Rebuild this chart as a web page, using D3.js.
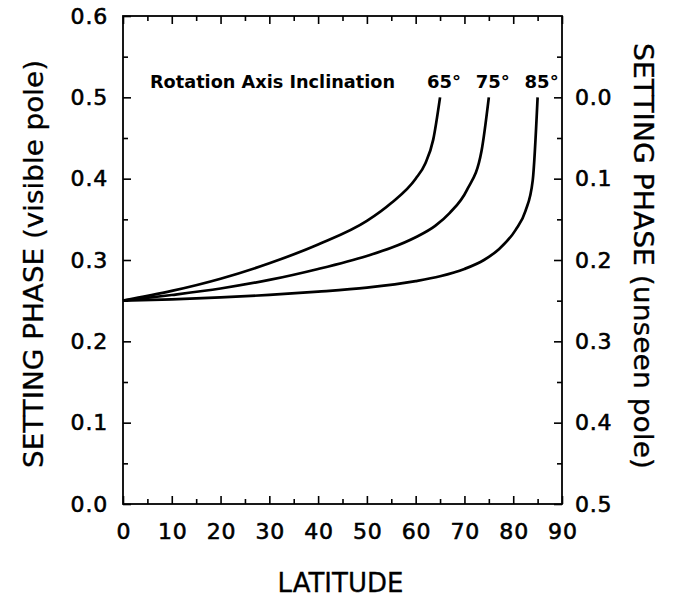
<!DOCTYPE html>
<html>
<head>
<meta charset="utf-8">
<script src="https://cdn.jsdelivr.net/npm/d3@7"></script>
<style>
  body { margin: 0; background: #fff; }
  svg { display: block; }
</style>
</head>
<body>
<div id="grafico"></div>
<script>
// inclinacoes do eixo de rotacao
const inclinacoes = [65, 75, 85];

// curvas: latitude x fase de ocaso (polo visivel)
const lat65 = [0, 10, 20, 30, 40, 50, 55, 60, 62, 63.6, 65];
const fase65 = [0.25, 0.262, 0.277, 0.296, 0.319, 0.348, 0.370, 0.400, 0.419, 0.448, 0.5];

const lat75 = [0, 10, 20, 30, 40, 50, 55, 60, 64, 67, 70.5, 73.5, 75];
const fase75 = [0.25, 0.257, 0.265, 0.2755, 0.289, 0.305, 0.315, 0.328, 0.342, 0.358, 0.386, 0.434, 0.5];

const lat85 = [0, 10, 20, 30, 40, 50, 60, 65, 70, 74, 77, 80.5, 82.5, 84, 85];
const fase85 = [0.25, 0.2515, 0.254, 0.257, 0.261, 0.266, 0.274, 0.280, 0.289, 0.300, 0.313, 0.337, 0.360, 0.398, 0.5];

const ticksLat = [0, 10, 20, 30, 40, 50, 60, 70, 80, 90];
const ticksFase = [0.0, 0.1, 0.2, 0.3, 0.4, 0.5, 0.6];
const ticksFaseOculta = [0.0, 0.1, 0.2, 0.3, 0.4, 0.5];

const largura = 683, altura = 597;
const margem = { esq: 123, dir: 562, topo: 16, base: 504 };

const svg = d3.select("#grafico").append("svg")
    .attr("width", largura)
    .attr("height", altura);

const x = d3.scaleLinear().domain([0, 90]).range([margem.esq, margem.dir]);
const y = d3.scaleLinear().domain([0, 0.6]).range([margem.base, margem.topo]);
const yDir = d3.scaleLinear().domain([-0.1, 0.5]).range([margem.topo, margem.base]);

const fonteTicks = g => g.selectAll("text")
    .style("font-family", "'DejaVu Sans', sans-serif")
    .style("font-size", "22px")
    .style("letter-spacing", "0.8px")
    .attr("fill", "#000")
    .attr("stroke", "#000")
    .attr("stroke-width", 0.6);

const limpar = g => {
    g.select(".domain").remove();
    g.selectAll("line").attr("stroke", "#000").attr("stroke-width", 1.6);
};

const minX = d3.range(5, 90, 10);
const minY = d3.range(0.05, 0.6, 0.1);

// eixo inferior
svg.append("g")
    .attr("transform", `translate(0,${margem.base})`)
    .call(d3.axisBottom(x).tickValues(ticksLat).tickSize(-8).tickPadding(19).tickFormat(d3.format("d")))
    .call(limpar).call(fonteTicks)
    .selectAll("text").attr("dx", "0.4px");
svg.append("g")
    .attr("transform", `translate(0,${margem.base})`)
    .call(d3.axisBottom(x).tickValues(minX).tickSize(-5).tickFormat(""))
    .call(limpar);

// eixo superior (so marcas)
svg.append("g")
    .attr("transform", `translate(0,${margem.topo})`)
    .call(d3.axisTop(x).tickValues(ticksLat).tickSize(-8).tickFormat(""))
    .call(limpar);
svg.append("g")
    .attr("transform", `translate(0,${margem.topo})`)
    .call(d3.axisTop(x).tickValues(minX).tickSize(-5).tickFormat(""))
    .call(limpar);

// eixo esquerdo
svg.append("g")
    .attr("transform", `translate(${margem.esq},0)`)
    .call(d3.axisLeft(y).tickValues(ticksFase).tickSize(-8).tickPadding(15).tickFormat(d3.format(".1f")))
    .call(limpar).call(fonteTicks);
svg.append("g")
    .attr("transform", `translate(${margem.esq},0)`)
    .call(d3.axisLeft(y).tickValues(minY).tickSize(-5).tickFormat(""))
    .call(limpar);

// eixo direito (polo oculto)
svg.append("g")
    .attr("transform", `translate(${margem.dir},0)`)
    .call(d3.axisRight(yDir).tickValues(ticksFaseOculta).tickSize(-8).tickPadding(13).tickFormat(d3.format(".1f")))
    .call(limpar).call(fonteTicks);
svg.append("g")
    .attr("transform", `translate(${margem.dir},0)`)
    .call(d3.axisRight(yDir).tickValues(d3.range(-0.05, 0.5, 0.1)).tickSize(-5).tickFormat(""))
    .call(limpar);

// moldura
svg.append("rect")
    .attr("x", margem.esq)
    .attr("y", margem.topo)
    .attr("width", margem.dir - margem.esq)
    .attr("height", margem.base - margem.topo)
    .attr("fill", "none")
    .attr("stroke", "#000")
    .attr("stroke-width", 1.8);

// curvas
const series = [
    { inc: inclinacoes[0], lat: lat65, fase: fase65 },
    { inc: inclinacoes[1], lat: lat75, fase: fase75 },
    { inc: inclinacoes[2], lat: lat85, fase: fase85 }
];

const linha = d3.line()
    .x(d => x(d[0]))
    .y(d => y(d[1]))
    .curve(d3.curveMonotoneX);

svg.selectAll(".curva")
    .data(series)
    .enter().append("path")
    .attr("class", "curva")
    .attr("d", s => linha(s.lat.map((l, i) => [l, s.fase[i]])))
    .attr("fill", "none")
    .attr("stroke", "#000")
    .attr("stroke-width", 2.7)
    .attr("stroke-linejoin", "round");

// rotulos das curvas
svg.selectAll(".rotulo-inc")
    .data(series)
    .enter().append("text")
    .attr("class", "rotulo-inc")
    .attr("x", s => x(s.lat[s.lat.length - 1]) + 4)
    .attr("y", 88)
    .attr("text-anchor", "middle")
    .style("font-family", "'DejaVu Sans', sans-serif")
    .style("font-weight", "bold")
    .style("font-size", "18px")
    .text(s => s.inc + "°");

svg.append("text")
    .attr("x", 150)
    .attr("y", 88)
    .attr("textLength", 245)
    .attr("lengthAdjust", "spacingAndGlyphs")
    .style("font-family", "'DejaVu Sans', sans-serif")
    .style("font-weight", "bold")
    .style("font-size", "18px")
    .text("Rotation Axis Inclination");

// titulos dos eixos
svg.append("text")
    .attr("x", 340.5)
    .attr("y", 592)
    .attr("text-anchor", "middle")
    .style("font-family", "'DejaVu Sans', sans-serif")
    .style("font-size", "26px")
    .attr("stroke", "#000")
    .attr("stroke-width", 0.3)
    .text("LATITUDE");

svg.append("text")
    .attr("transform", "translate(43,264) rotate(-90)")
    .attr("text-anchor", "middle")
    .attr("textLength", 408)
    .attr("lengthAdjust", "spacingAndGlyphs")
    .style("font-family", "'DejaVu Sans', sans-serif")
    .style("font-size", "27px")
    .attr("stroke", "#000")
    .attr("stroke-width", 0.3)
    .text("SETTING PHASE (visible pole)");

svg.append("text")
    .attr("transform", "translate(634,256) rotate(90)")
    .attr("text-anchor", "middle")
    .attr("textLength", 426)
    .attr("lengthAdjust", "spacingAndGlyphs")
    .style("font-family", "'DejaVu Sans', sans-serif")
    .style("font-size", "27px")
    .attr("stroke", "#000")
    .attr("stroke-width", 0.3)
    .text("SETTING PHASE (unseen pole)");
</script>
</body>
</html>
